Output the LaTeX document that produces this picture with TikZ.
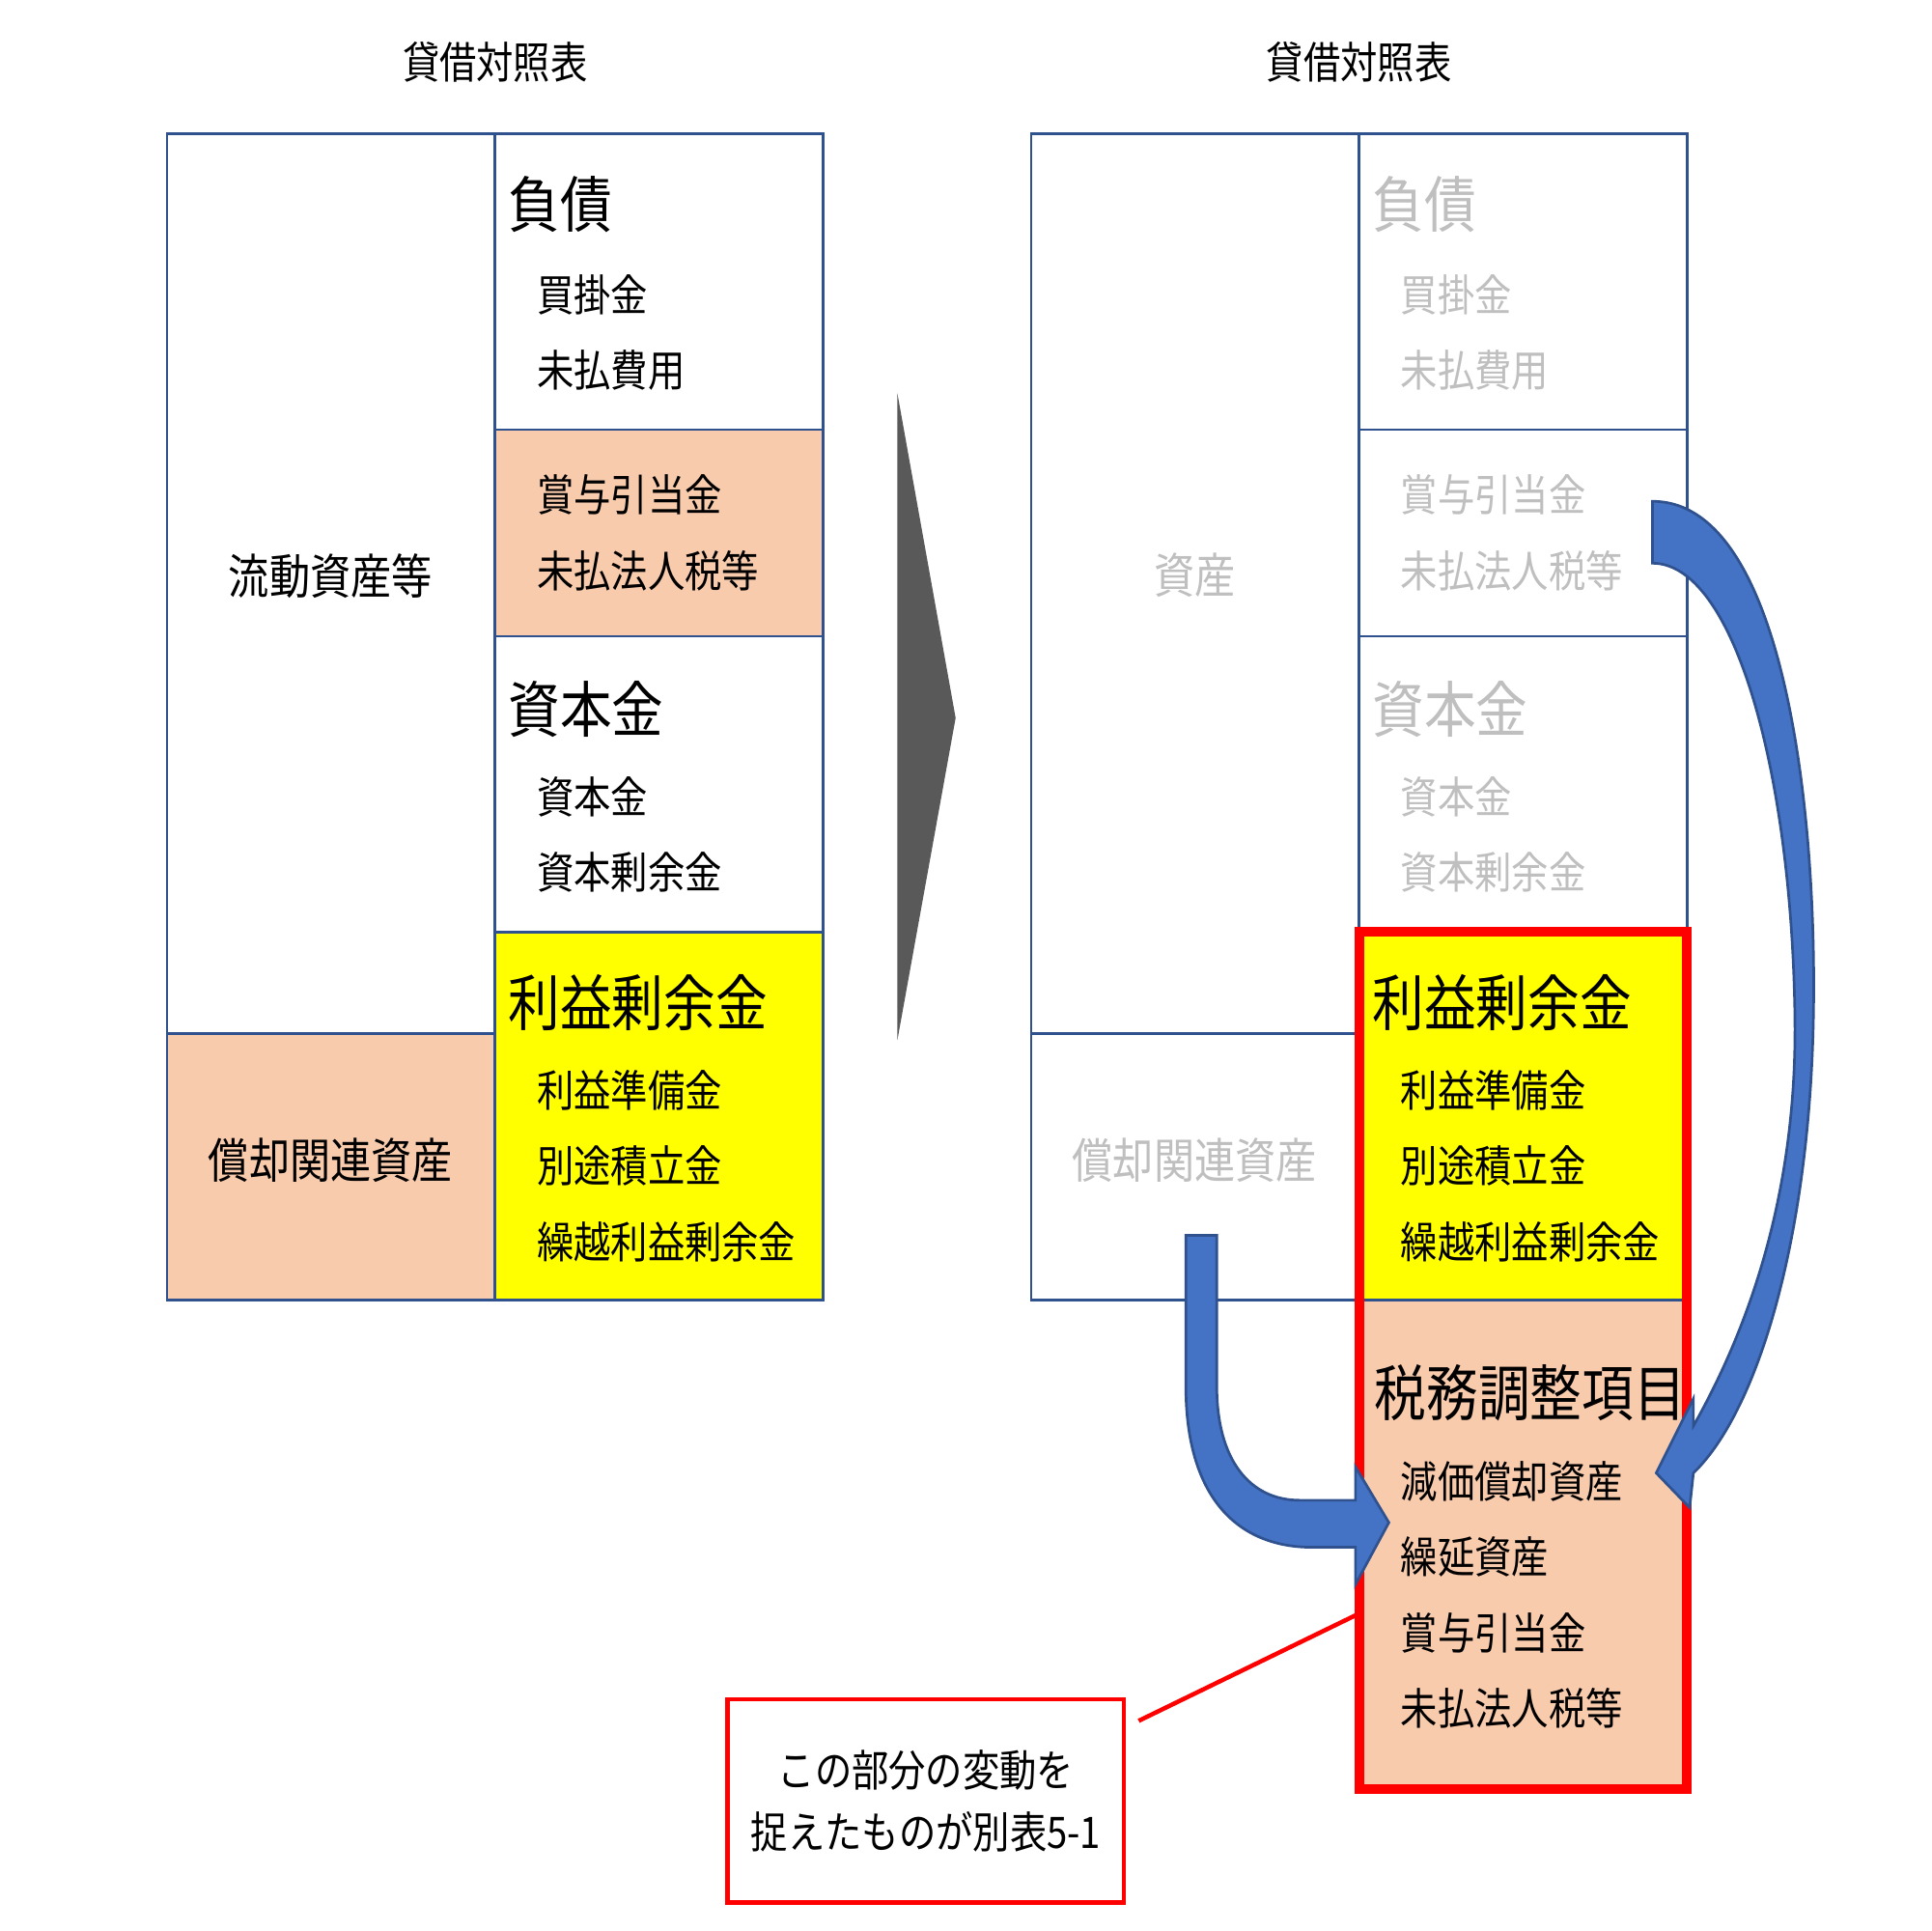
\documentclass[tikz,border=0pt]{standalone}
\usepackage{fontspec}
\setmainfont[FakeStretch=0.85]{Noto Sans CJK JP}
\begin{document}
\begin{tikzpicture}[x=0.01cm,y=-0.01cm,
  cell/.style={draw=bordc,line width=0.6pt},
  head/.style={anchor=west,font=\fontsize{14}{16}\selectfont,inner sep=0},
  item/.style={anchor=west,font=\fontsize{10}{12}\selectfont,inner sep=0},
  title/.style={font=\fontsize{10}{12}\selectfont}]
\definecolor{bordc}{HTML}{2F528F}
\definecolor{peach}{HTML}{F8CBAD}
\definecolor{ylw}{HTML}{FFFF00}
\definecolor{gry}{HTML}{BFBFBF}
\definecolor{blu}{HTML}{4472C4}
\useasboundingbox (0,0) rectangle (1560,1560);
% titles
\node[title] (t1) at (400,50) {貸借対照表};
\node[title] (t2) at (1098,50) {貸借対照表};
% left table
\filldraw[cell,fill=white] (135,108) rectangle (400,835);
\filldraw[cell,fill=peach] (135,835) rectangle (400,1050);
\filldraw[cell,fill=white] (400,108) rectangle (665,347);
\filldraw[cell,fill=peach] (400,347) rectangle (665,514);
\filldraw[cell,fill=white] (400,514) rectangle (665,753);
\filldraw[cell,fill=ylw] (400,753) rectangle (665,1050);
\node[font=\fontsize{11}{13}\selectfont] (a1) at (267,465) {流動資産等};
\node[font=\fontsize{11}{13}\selectfont] (a2) at (267,937) {償却関連資産};
\node[head] (h1) at (410,165) {負債};
\node[item] (i1) at (433,238) {買掛金};
\node[item] (i2) at (433,299) {未払費用};
\node[item] (i3) at (433,400) {賞与引当金};
\node[item] (i4) at (433,461) {未払法人税等};
\node[head] (h2) at (410,573) {資本金};
\node[item] (i5) at (433,644) {資本金};
\node[item] (i6) at (433,705) {資本剰余金};
\node[head] (h3) at (410,810) {利益剰余金};
\node[item] (i7) at (433,881) {利益準備金};
\node[item] (i8) at (433,942) {別途積立金};
\node[item] (i9) at (433,1003) {繰越利益剰余金};
% triangle
\fill[black!65] (725,318) -- (772,580) -- (725,840) -- cycle;
% right table
\draw[cell] (833,108) rectangle (1098,835);
\draw[cell] (833,835) rectangle (1098,1050);
\draw[cell] (1098,108) rectangle (1363,347);
\draw[cell] (1098,347) rectangle (1363,514);
\draw[cell] (1098,514) rectangle (1363,753);
\fill[ylw] (1098,753) rectangle (1363,1050);
\fill[peach] (1098,1050) rectangle (1363,1445);
\draw[bordc,line width=0.6pt] (1098,1050) -- (1363,1050);
\draw[red,line width=2.2pt] (1098,753) rectangle (1363,1445);
\node[font=\fontsize{11}{13}\selectfont,text=gry] (b1) at (965,465) {資産};
\node[font=\fontsize{11}{13}\selectfont,text=gry] (b2) at (965,937) {償却関連資産};
\begin{scope}[text=gry]
\node[head] (g1) at (1108,165) {負債};
\node[item] (j1) at (1131,238) {買掛金};
\node[item] (j2) at (1131,299) {未払費用};
\node[item] (j3) at (1131,400) {賞与引当金};
\node[item] (j4) at (1131,461) {未払法人税等};
\node[head] (g2) at (1108,573) {資本金};
\node[item] (j5) at (1131,644) {資本金};
\node[item] (j6) at (1131,705) {資本剰余金};
\end{scope}
\node[head] (g3) at (1108,810) {利益剰余金};
\node[item] (j7) at (1131,881) {利益準備金};
\node[item] (j8) at (1131,942) {別途積立金};
\node[item] (j9) at (1131,1003) {繰越利益剰余金};
\node[head] (g4) at (1110,1125) {税務調整項目};
\node[item] (k1) at (1131,1197) {減価償却資産};
\node[item] (k2) at (1131,1258) {繰延資産};
\node[item] (k3) at (1131,1319) {賞与引当金};
\node[item] (k4) at (1131,1380) {未払法人税等};
% blue arrows
\filldraw[fill=blu,draw=bordc,line width=0.6pt] (958,998) -- (958,1120) .. controls (958,1210) and (1000,1250) .. (1060,1250) -- (1095,1250) -- (1095,1280) -- (1122,1230) -- (1095,1185) -- (1095,1212) -- (1050,1212) .. controls (1010,1212) and (983,1180) .. (983,1120) -- (983,998) -- cycle;
\filldraw[fill=blu,draw=bordc,line width=0.6pt] (1335,405) .. controls (1440,405) and (1468,650) .. (1465,820) .. controls (1462,1000) and (1420,1140) .. (1368,1190) -- (1365,1218) -- (1338,1190) -- (1368,1130) -- (1368,1152) .. controls (1420,1060) and (1452,950) .. (1450,820) .. controls (1447,620) and (1400,455) .. (1335,455) -- cycle;
% label
\node[draw=red,line width=1pt,minimum width=320\pgflinewidth,inner sep=0,align=center,font=\fontsize{10}{14}\selectfont,minimum width=3.2cm,minimum height=1.64cm] (lab) at (748,1455) {この部分の変動を\\捉えたものが別表5-1};
\coordinate (lp) at (1095,1305);
\draw[red,line width=1pt] ([xshift=0.1cm,yshift=-0.19cm]lab.north east) -- (lp);
\end{tikzpicture}
\end{document}
